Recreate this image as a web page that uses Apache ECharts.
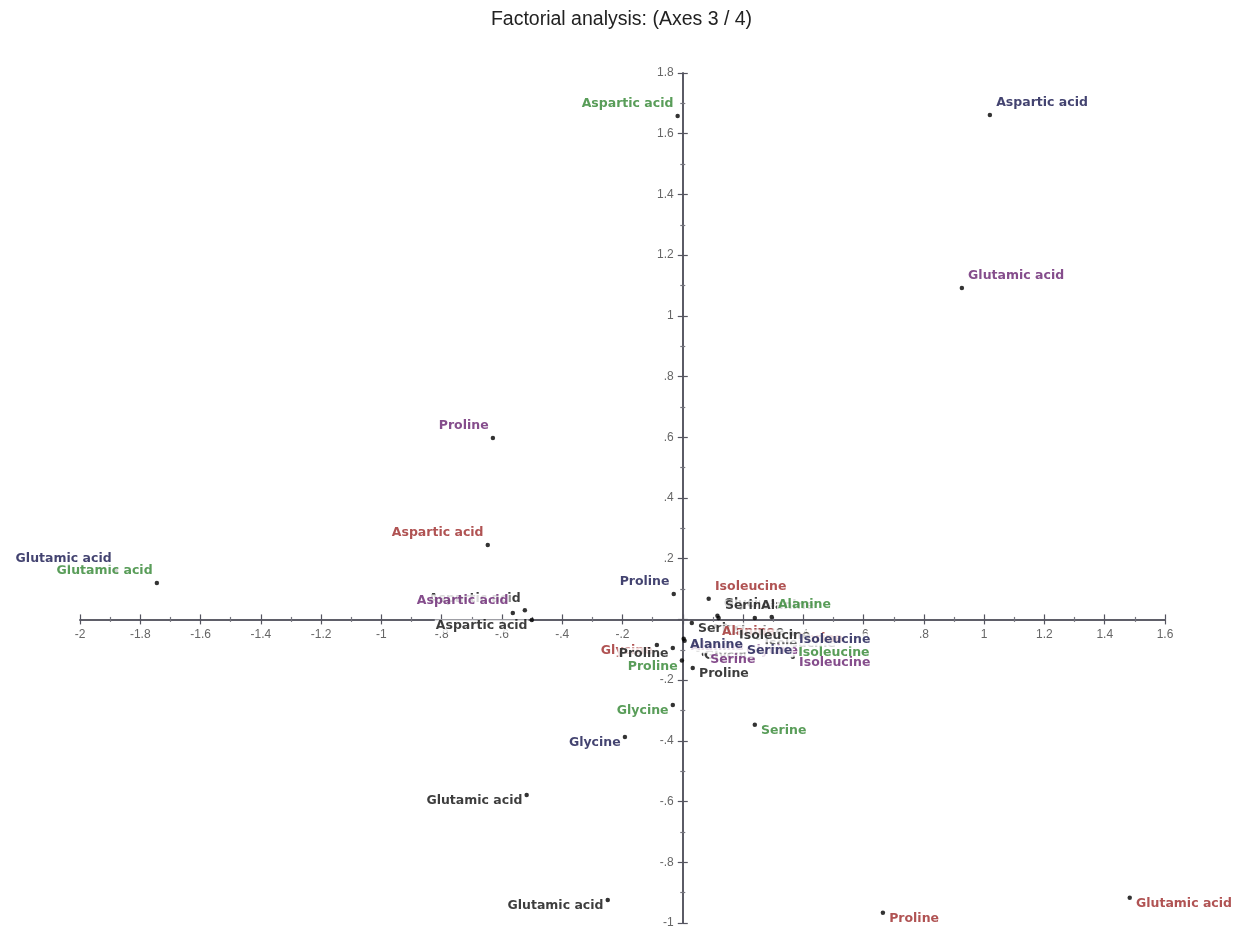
<!DOCTYPE html>
<html>
<head>
<meta charset="utf-8">
<title>Factorial analysis: (Axes 3 / 4)</title>
<script src="https://cdn.jsdelivr.net/npm/echarts@6/dist/echarts.min.js"></script>
<style>
  html, body { margin: 0; padding: 0; background: #fff; }
  #chart { width: 1243px; height: 930px; }
</style>
</head>
<body>
<div id="chart"></div>
<script>
// Amino acids, in the order every group's arrays follow
const aminoAcids = ['Aspartic acid', 'Glutamic acid', 'Proline', 'Glycine', 'Serine', 'Alanine', 'Isoleucine'];

// Factor scores on axis 3 (x) and axis 4 (y), one pair of arrays per group
const blackBX  = [-0.501, -0.249,  0.033,  0.050,  0.030,  0.140,  0.250];
const blackBY  = [-0.002, -0.924, -0.160, -0.100, -0.012, -0.020, -0.060];

const redX     = [-0.647,  1.483,  0.664, -0.086,  0.360,  0.109,  0.086];
const redY     = [ 0.245, -0.917, -0.966, -0.084, -0.045, -0.022,  0.068];

const blackAX  = [-0.524, -0.518, -0.033,  0.115,  0.119,  0.239,  0.166];
const blackAY  = [ 0.030, -0.578, -0.094,  0.012,  0.005,  0.005, -0.035];

const greenX   = [-0.017, -1.745, -0.003, -0.033,  0.239,  0.295,  0.362];
const greenY   = [ 1.658,  0.120, -0.135, -0.282, -0.347,  0.008, -0.090];

const purpleX  = [-0.564,  0.926, -0.630,  0.190,  0.070,  0.006,  0.365];
const purpleY  = [ 0.021,  1.092,  0.598, -0.082, -0.114, -0.070, -0.123];

const navyX    = [ 1.019, -1.881, -0.030, -0.192,  0.192,  0.003,  0.365];
const navyY    = [ 1.662,  0.160,  0.084, -0.387, -0.084, -0.064, -0.048];

// Axis ranges and tick step
const xRange = [-2, 1.6];
const yRange = [-1, 1.8];
const tickStep = 0.2;

// Plot area inside the 1243 x 930 canvas
const W = 1243, H = 930;
const gridBox = { left: 80, right: 78, top: 73, bottom: 7 };
const plotW = W - gridBox.left - gridBox.right;
const plotH = H - gridBox.top - gridBox.bottom;

// Pixel distance from each grid edge to the zero line, so the axes cross at the origin
const zeroFromLeft   = plotW * (0 - xRange[0]) / (xRange[1] - xRange[0]);
const zeroFromBottom = plotH * (0 - yRange[0]) / (yRange[1] - yRange[0]);

// Drawing order: later groups' labels sit on top of earlier ones
const groups = [
  { xs: blackBX, ys: blackBY, color: '#0d0d0d' },
  { xs: redX,    ys: redY,    color: '#9c2828' },
  { xs: blackAX, ys: blackAY, color: '#0d0d0d' },
  { xs: greenX,  ys: greenY,  color: '#2f842f' },
  { xs: purpleX, ys: purpleY, color: '#66206f' },
  { xs: navyX,   ys: navyY,   color: '#14144c' }
];

// Labels go on the side away from the vertical axis, above for positive scores, below for negative
function pointLabel(x, y, color) {
  const right = x >= 0;
  return {
    show: true,
    position: right ? 'right' : 'left',
    distance: right ? 3 : 1,
    offset: [0, y > 0 ? -12 : 6],
    color: color,
    fontFamily: 'DejaVu Sans',
    fontWeight: 'bold',
    fontSize: 12.5,
    backgroundColor: '#ffffff',
    padding: [0, 1],
    formatter: '{b}'
  };
}

const series = groups.map(function (g) {
  return {
    type: 'scatter',
    symbol: 'circle',
    symbolSize: 4.5,
    itemStyle: { color: '#000000' },
    data: aminoAcids.map(function (name, i) {
      return {
        name: name,
        value: [g.xs[i], g.ys[i]],
        label: pointLabel(g.xs[i], g.ys[i], g.color)
      };
    }),
    emphasis: { disabled: true }
  };
});

// Tick labels drop the leading zero and the label at the origin
function tickText(v) {
  if (Math.abs(v) < 1e-9) return '';
  const s = String(Math.round(v * 10) / 10);
  return s.replace(/^(-?)0\./, '$1.');
}

const axisLineStyle = { color: '#555560', width: 1.6 };
const tickStyle = { color: '#555560', width: 1.2 };
const minorStyle = { color: '#777780', width: 1.2 };

function valueAxis(range, position, offset, showLabels) {
  return {
    type: 'value',
    min: range[0],
    max: range[1],
    interval: tickStep,
    position: position,
    offset: offset,
    splitLine: { show: false },
    axisLine: { show: true, onZero: false, lineStyle: axisLineStyle },
    axisTick: { show: true, inside: false, length: 5, lineStyle: tickStyle },
    minorTick: { show: true, splitNumber: 2, length: 2.5, lineStyle: minorStyle },
    axisLabel: {
      show: showLabels,
      formatter: tickText,
      color: '#666666',
      fontFamily: 'Liberation Sans',
      fontSize: 12,
      margin: 9
    }
  };
}

const chart = echarts.init(document.getElementById('chart'), null, { renderer: 'canvas' });
chart.setOption({
  animation: false,
  backgroundColor: '#ffffff',
  title: {
    text: 'Factorial analysis: (Axes 3 / 4)',
    left: 'center',
    top: 5,
    textStyle: { fontFamily: 'Liberation Sans', fontWeight: 'normal', fontSize: 19.5, color: '#222222' }
  },
  grid: {
    left: gridBox.left, right: gridBox.right, top: gridBox.top, bottom: gridBox.bottom,
    containLabel: false, outerBoundsMode: 'none'
  },
  // Each axis is drawn twice (one per side) so that ticks cross the line
  xAxis: [
    valueAxis(xRange, 'bottom', -zeroFromBottom, true),
    valueAxis(xRange, 'top', -(plotH - zeroFromBottom), false)
  ],
  yAxis: [
    valueAxis(yRange, 'left', -zeroFromLeft, true),
    valueAxis(yRange, 'right', -(plotW - zeroFromLeft), false)
  ],
  series: series
});
</script>
</body>
</html>
